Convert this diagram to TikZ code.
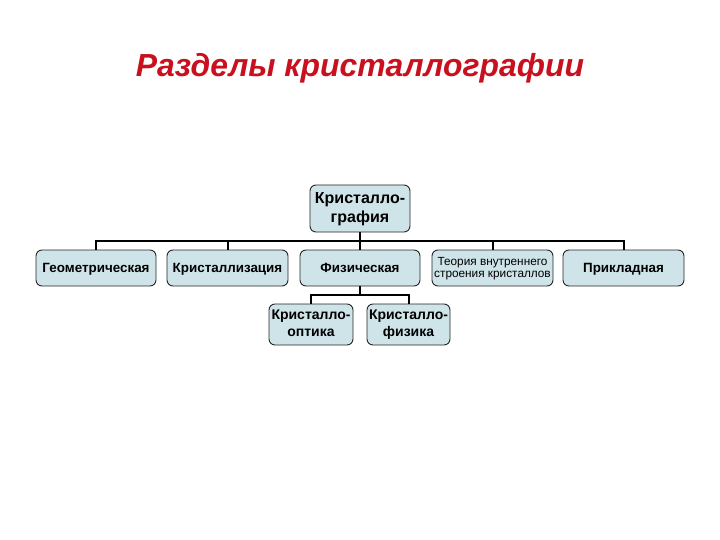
\documentclass[tikz,border=0pt]{standalone}
\usepackage{fontspec}
\setmainfont{Liberation Sans}
\definecolor{boxfill}{RGB}{206,228,232}
\definecolor{titlered}{RGB}{200,16,30}
\newcommand{\evenline}{\vphantom{Ффу}}
\begin{document}
\begin{tikzpicture}[x=1pt,y=-1pt,
  box/.style={draw=black!85, line width=0.9pt, fill=boxfill, rounded corners=6pt, align=center, inner sep=1pt, font=\fontsize{13.4}{15}\selectfont\bfseries},
  onebox/.style={box, text height=0.92em, text depth=0.02em},
  conn/.style={draw=black, line width=2pt}]
\useasboundingbox (0,0) rectangle (720,540);
\fill[white] (0,0) rectangle (720,540);
\node[font=\fontsize{31.9}{36}\selectfont\bfseries\itshape, text=titlered] (title) at (360,68) {Разделы кристаллографии};
\node[box, minimum width=100, minimum height=47, font=\fontsize{16}{19}\selectfont\bfseries] (root) at (360,208.5) {Кристалло-\evenline\\графия\evenline};
\node[onebox, minimum width=120, minimum height=36] (geo) at (96,268) {Геометрическая};
\node[onebox, minimum width=121, minimum height=36] (cryst) at (227.5,268) {Кристаллизация};
\node[onebox, minimum width=120, minimum height=36] (phys) at (360,268) {Физическая};
\node[box, minimum width=121, minimum height=36, font=\fontsize{11.8}{12}\selectfont] (theory) at (492.5,268) {Теория внутреннего\evenline\\строения кристаллов\evenline};
\node[onebox, minimum width=121, minimum height=36] (appl) at (623.5,268) {Прикладная};
\node[box, minimum width=84, minimum height=41, font=\fontsize{14}{17}\selectfont\bfseries] (optic) at (311,324.5) {Кристалло-\evenline\\оптика\evenline};
\node[box, minimum width=83, minimum height=41, font=\fontsize{14}{17}\selectfont\bfseries] (fizik) at (408.5,324.5) {Кристалло-\evenline\\физика\evenline};
\coordinate (j1) at (360,241);
\coordinate (j2) at (360,295);
\draw[conn] (root.south) -- (j1);
\draw[conn] (j1) -| (geo.north);
\draw[conn] (j1) -| (cryst.north);
\draw[conn] (j1) -- (phys.north);
\draw[conn] (j1) -| (theory.north);
\draw[conn] (j1) -| (appl.north);
\draw[conn] (phys.south) -- (j2);
\draw[conn] (j2) -| (optic.north);
\draw[conn] (j2) -| (fizik.north);
\end{tikzpicture}
\end{document}
